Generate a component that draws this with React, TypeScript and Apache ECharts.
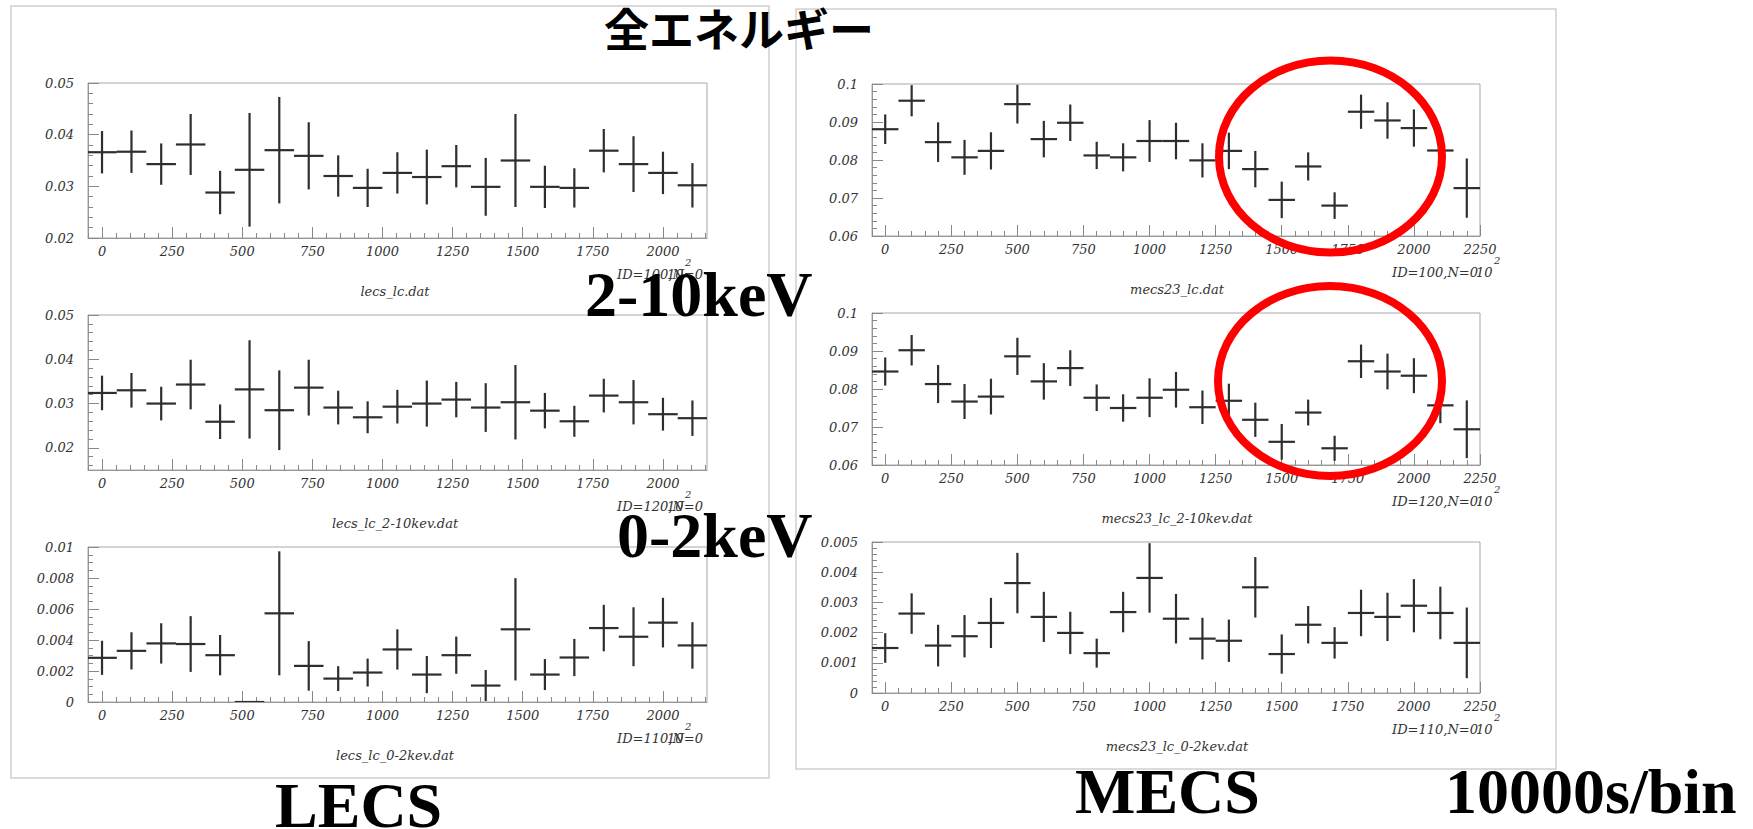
import React, { useEffect, useRef } from "react";
import * as echarts from "echarts";

// ---- bin centres (units of 10^2 s) ----
const lecsTime = [0, 105, 211, 316, 421, 526, 632, 737, 842, 947, 1053, 1158, 1263, 1368, 1474, 1579, 1684, 1789, 1895, 2000, 2105];
const mecsTime = [0, 100, 200, 300, 400, 500, 600, 700, 800, 900, 1000, 1100, 1200, 1300, 1400, 1500, 1600, 1700, 1800, 1900, 2000, 2100, 2200];

// ---- LECS count rates and errors ----
const lecsAll = [0.0366, 0.0367, 0.0343, 0.0381, 0.0288, 0.0332, 0.0370, 0.0359, 0.0320, 0.0297, 0.0326, 0.0318, 0.0339, 0.0299, 0.0350, 0.0299, 0.0297, 0.0369, 0.0343, 0.0326, 0.0302];
const lecsAllErr = [0.0041, 0.0041, 0.0040, 0.0059, 0.0042, 0.0110, 0.0103, 0.0065, 0.0040, 0.0037, 0.0040, 0.0053, 0.0041, 0.0056, 0.0090, 0.0041, 0.0038, 0.0042, 0.0054, 0.0041, 0.0043];
const lecsHard = [0.0324, 0.0330, 0.0300, 0.0343, 0.0259, 0.0332, 0.0285, 0.0336, 0.0291, 0.0269, 0.0293, 0.0300, 0.0309, 0.0291, 0.0303, 0.0284, 0.0260, 0.0318, 0.0303, 0.0276, 0.0267];
const lecsHardErr = [0.0039, 0.0039, 0.0038, 0.0056, 0.0039, 0.0111, 0.0090, 0.0063, 0.0038, 0.0036, 0.0038, 0.0052, 0.0040, 0.0055, 0.0084, 0.0040, 0.0035, 0.0038, 0.0050, 0.0037, 0.0040];
const lecsSoft = [0.00285, 0.0033, 0.00378, 0.00374, 0.00302, 0, 0.00572, 0.00233, 0.00151, 0.0019, 0.00339, 0.00177, 0.00302, 0.00106, 0.00469, 0.00177, 0.00287, 0.00477, 0.00421, 0.00512, 0.00365];
const lecsSoftErr = [0.0011, 0.0012, 0.0013, 0.0018, 0.0013, 0, 0.0040, 0.0016, 0.0008, 0.0009, 0.0013, 0.0012, 0.0012, 0.0010, 0.0033, 0.0010, 0.0012, 0.0015, 0.0019, 0.0016, 0.0015];

// ---- MECS count rates and errors ----
const mecsAll = [0.0881, 0.0956, 0.0847, 0.0807, 0.0824, 0.0947, 0.0855, 0.0898, 0.0812, 0.0807, 0.0850, 0.0850, 0.0799, 0.0824, 0.0776, 0.0695, 0.0783, 0.0680, 0.0927, 0.0904, 0.0884, 0.0825, 0.0726];
const mecsAllErr = [0.0039, 0.0041, 0.0052, 0.0046, 0.0049, 0.0051, 0.0048, 0.0048, 0.0036, 0.0037, 0.0055, 0.0048, 0.0045, 0.0048, 0.0048, 0.0048, 0.0037, 0.0035, 0.0045, 0.0048, 0.0049, 0.0047, 0.0078];
const mecsHard = [0.0846, 0.0902, 0.0813, 0.0767, 0.0780, 0.0886, 0.0820, 0.0855, 0.0777, 0.0750, 0.0777, 0.0798, 0.0752, 0.0769, 0.0719, 0.0661, 0.0738, 0.0644, 0.0873, 0.0846, 0.0835, 0.0757, 0.0694];
const mecsHardErr = [0.0037, 0.0040, 0.0050, 0.0046, 0.0047, 0.0049, 0.0048, 0.0047, 0.0035, 0.0036, 0.0051, 0.0047, 0.0044, 0.0045, 0.0045, 0.0047, 0.0034, 0.0033, 0.0044, 0.0047, 0.0046, 0.0047, 0.0076];
const mecsSoft = [0.00149, 0.00263, 0.00157, 0.00188, 0.00232, 0.00364, 0.00252, 0.00199, 0.00132, 0.00268, 0.00381, 0.00246, 0.0018, 0.00173, 0.0035, 0.00129, 0.00226, 0.00166, 0.00265, 0.00252, 0.00289, 0.00265, 0.00166];
const mecsSoftErr = [0.00049, 0.00067, 0.00069, 0.0007, 0.00083, 0.001, 0.00083, 0.0007, 0.00048, 0.00067, 0.00115, 0.00082, 0.00069, 0.0007, 0.001, 0.00065, 0.00062, 0.00052, 0.00077, 0.0008, 0.00088, 0.00087, 0.00117];

// ---- tick labels ----
const lecsXLabels = [0, 250, 500, 750, 1000, 1250, 1500, 1750, 2000];
const mecsXLabels = [0, 250, 500, 750, 1000, 1250, 1500, 1750, 2000, 2250];
const lecsRateLabels = [0.02, 0.03, 0.04, 0.05];
const lecsSoftLabels = [0, 0.002, 0.004, 0.006, 0.008, 0.01];
const mecsRateLabels = [0.06, 0.07, 0.08, 0.09, 0.1];
const mecsSoftLabels = [0, 0.001, 0.002, 0.003, 0.004, 0.005];

// ---- panel texts ----
const fileNames = ["lecs_lc.dat", "lecs_lc_2-10kev.dat", "lecs_lc_0-2kev.dat", "mecs23_lc.dat", "mecs23_lc_2-10kev.dat", "mecs23_lc_0-2kev.dat"];
const idTexts = ["ID=100,N=0", "ID=120,N=0", "ID=110,N=0", "ID=100,N=0", "ID=120,N=0", "ID=110,N=0"];

function steps(min: number, max: number, step: number): number[] {
  const out: number[] = [];
  const n0 = Math.ceil(min / step - 1e-9);
  const n1 = Math.floor(max / step + 1e-9);
  for (let n = n0; n <= n1; n++) out.push(+(n * step).toFixed(7));
  return out;
}
const fmt = (v: any) => String(parseFloat(Number(v).toFixed(6)));

const SMALL_FONT = { fontFamily: "DejaVu Serif", fontStyle: "italic", fontSize: 13, color: "#333" } as const;

type Panel = {
  left: number; top: number; width: number; height: number;
  xmin: number; xmax: number; xLabels: number[]; hw: number;
  ymin: number; ymax: number; yLabels: number[]; yMinor: number;
  xs: number[]; ys: number[]; es: number[];
};

const panels: Panel[] = [
  { left: 88, top: 83, width: 619, height: 155, xmin: -50, xmax: 2157, xLabels: lecsXLabels, hw: 52.6, ymin: 0.02, ymax: 0.05, yLabels: lecsRateLabels, yMinor: 0.002, xs: lecsTime, ys: lecsAll, es: lecsAllErr },
  { left: 88, top: 315, width: 619, height: 155, xmin: -50, xmax: 2157, xLabels: lecsXLabels, hw: 52.6, ymin: 0.015, ymax: 0.05, yLabels: lecsRateLabels, yMinor: 0.002, xs: lecsTime, ys: lecsHard, es: lecsHardErr },
  { left: 88, top: 547, width: 619, height: 155, xmin: -50, xmax: 2157, xLabels: lecsXLabels, hw: 52.6, ymin: 0, ymax: 0.01, yLabels: lecsSoftLabels, yMinor: 0.0005, xs: lecsTime, ys: lecsSoft, es: lecsSoftErr },
  { left: 872, top: 84, width: 608, height: 152, xmin: -50, xmax: 2250, xLabels: mecsXLabels, hw: 50, ymin: 0.06, ymax: 0.1, yLabels: mecsRateLabels, yMinor: 0.002, xs: mecsTime, ys: mecsAll, es: mecsAllErr },
  { left: 872, top: 313, width: 608, height: 152, xmin: -50, xmax: 2250, xLabels: mecsXLabels, hw: 50, ymin: 0.06, ymax: 0.1, yLabels: mecsRateLabels, yMinor: 0.002, xs: mecsTime, ys: mecsHard, es: mecsHardErr },
  { left: 872, top: 542, width: 608, height: 151, xmin: -50, xmax: 2250, xLabels: mecsXLabels, hw: 50, ymin: 0, ymax: 0.005, yLabels: mecsSoftLabels, yMinor: 0.0002, xs: mecsTime, ys: mecsSoft, es: mecsSoftErr },
];

function buildOption() {
  const grid: any[] = [];
  const xAxis: any[] = [];
  const yAxis: any[] = [];
  const series: any[] = [];
  const graphic: any[] = [];

  panels.forEach((p, i) => {
    const isLecs = p.left === 88;
    grid.push({ left: p.left, top: p.top, width: p.width, height: p.height, show: true, borderColor: "#a8a8a8", borderWidth: 1, backgroundColor: "transparent" });
    const common = { type: "value", gridIndex: i, splitLine: { show: false } };
    xAxis.push({
      ...common, min: p.xmin, max: p.xmax, position: "bottom",
      axisLine: { show: true, onZero: false, lineStyle: { color: "#999", width: 1 } },
      axisTick: { show: true, inside: true, length: 11, customValues: p.xLabels, lineStyle: { color: "#888" } },
      axisLabel: { show: true, customValues: p.xLabels, margin: 7, formatter: fmt, showMinLabel: true, showMaxLabel: true, ...SMALL_FONT },
    });
    xAxis.push({
      ...common, min: p.xmin, max: p.xmax, position: "bottom",
      axisLine: { show: false, onZero: false },
      axisTick: { show: true, inside: true, length: 5, customValues: steps(p.xmin, p.xmax, 50), lineStyle: { color: "#888" } },
      axisLabel: { show: false },
    });
    yAxis.push({
      ...common, min: p.ymin, max: p.ymax, position: "left",
      axisLine: { show: true, onZero: false, lineStyle: { color: "#999", width: 1 } },
      axisTick: { show: true, inside: true, length: 11, customValues: p.yLabels, lineStyle: { color: "#888" } },
      axisLabel: { show: true, customValues: p.yLabels, margin: 14, formatter: fmt, showMinLabel: true, showMaxLabel: true, ...SMALL_FONT },
    });
    yAxis.push({
      ...common, min: p.ymin, max: p.ymax, position: "left",
      axisLine: { show: false, onZero: false },
      axisTick: { show: true, inside: true, length: 5, customValues: steps(p.ymin, p.ymax, p.yMinor), lineStyle: { color: "#888" } },
      axisLabel: { show: false },
    });
    const hw = p.hw;
    series.push({
      type: "custom",
      xAxisIndex: 2 * i,
      yAxisIndex: 2 * i,
      clip: true,
      data: p.xs.map((x, k) => [x, p.ys[k], p.es[k]]),
      renderItem: (params: any, api: any) => {
        const x = api.value(0), y = api.value(1), e = api.value(2);
        const c = api.coord([x, y]);
        const l = api.coord([x - hw, y]);
        const r = api.coord([x + hw, y]);
        const t = api.coord([x, y + e]);
        const b = api.coord([x, y - e]);
        const st = { stroke: "#2e2e2e", lineWidth: 2.2 };
        return {
          type: "group",
          children: [
            { type: "line", shape: { x1: l[0], y1: c[1], x2: r[0], y2: c[1] }, style: st },
            { type: "line", shape: { x1: c[0], y1: t[1], x2: c[0], y2: b[1] }, style: st },
          ],
        };
      },
    });

    // file name below the plot
    graphic.push({
      type: "text", x: isLecs ? 395 : 1177, y: p.top + p.height + 53,
      style: { text: fileNames[i], font: 'italic 13px "DejaVu Serif"', fill: "#333", textAlign: "center", textVerticalAlign: "middle", align: "center", verticalAlign: "middle" },
    });
    // statistics / exponent label
    const idX = isLecs ? 617 : 1392;
    const expX = isLecs ? 667 : 1476;
    const idY = p.top + p.height + 36;
    graphic.push({ type: "text", x: idX, y: idY, style: { text: idTexts[i], font: 'italic 13px "DejaVu Serif"', fill: "#333", textVerticalAlign: "middle", verticalAlign: "middle" } });
    graphic.push({ type: "text", x: expX, y: idY, style: { text: "10", font: 'italic 13px "DejaVu Serif"', fill: "#333", textVerticalAlign: "middle", verticalAlign: "middle" } });
    graphic.push({ type: "text", x: expX + 18, y: idY - 12, style: { text: "2", font: 'italic 10px "DejaVu Serif"', fill: "#333", textVerticalAlign: "middle", verticalAlign: "middle" } });
  });

  // outer frames
  graphic.push({ type: "rect", z: -1, shape: { x: 11, y: 6, width: 758, height: 772 }, style: { fill: "none", stroke: "#cfcfcf", lineWidth: 1.5 } });
  graphic.push({ type: "rect", z: -1, shape: { x: 796, y: 9, width: 760, height: 760 }, style: { fill: "none", stroke: "#cfcfcf", lineWidth: 1.5 } });

  const big = 'bold 64px "Liberation Serif", "Times New Roman", serif';
  const bigText = (text: string, x: number, y: number) => ({
    type: "text", x, y, z: 50,
    style: { text, font: big, fill: "#000", textVerticalAlign: "middle", verticalAlign: "middle" },
  });
  graphic.push({
    type: "text", x: 604, y: 27, z: 50,
    style: { text: "全エネルギー", font: 'bold 45px "Noto Sans CJK JP"', fill: "#000", textVerticalAlign: "middle", verticalAlign: "middle" },
  });
  graphic.push(bigText("2-10keV", 585, 294));
  graphic.push(bigText("0-2keV", 617, 535));
  graphic.push(bigText("LECS", 275, 805));
  graphic.push(bigText("MECS", 1075, 791));
  graphic.push(bigText("10000s/bin", 1445, 791));

  // red highlight ellipses
  graphic.push({ type: "ellipse", z: 100, shape: { cx: 1330.5, cy: 156.5, rx: 111.5, ry: 96 }, style: { fill: "none", stroke: "#ff0000", lineWidth: 8 } });
  graphic.push({ type: "ellipse", z: 100, shape: { cx: 1330, cy: 381, rx: 112, ry: 95 }, style: { fill: "none", stroke: "#ff0000", lineWidth: 8 } });

  return { animation: false, backgroundColor: "#ffffff", grid, xAxis, yAxis, series, graphic };
}

export default function App() {
  const ref = useRef<HTMLDivElement>(null);
  useEffect(() => {
    document.body.style.margin = "0";
    if (!ref.current) return;
    const chart = echarts.init(ref.current, undefined, { renderer: "svg" });
    chart.setOption(buildOption() as any);
    return () => chart.dispose();
  }, []);
  return <div ref={ref} style={{ position: "fixed", left: 0, top: 0, width: 1753, height: 829 }} />;
}
